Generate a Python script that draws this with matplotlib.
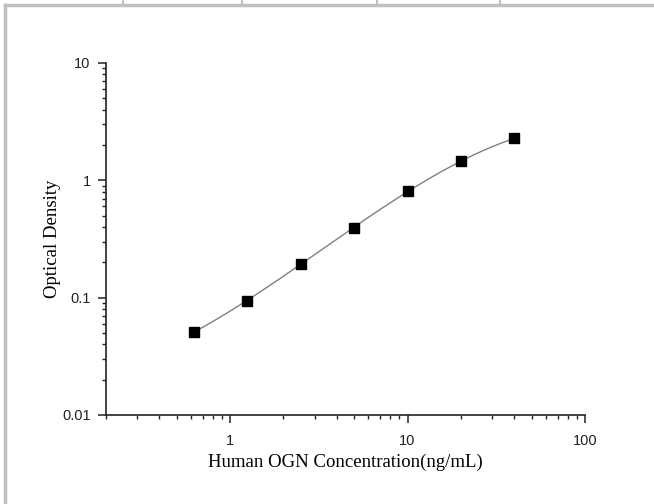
import numpy as np
import matplotlib
matplotlib.use('Agg')
import matplotlib.pyplot as plt
from matplotlib.lines import Line2D
from matplotlib.ticker import LogLocator, FixedLocator, NullFormatter

# dados da curva padrão
concentracao = [0.625, 1.25, 2.5, 5, 10, 20, 40]
densidade = [0.051, 0.094, 0.195, 0.396, 0.805, 1.45, 2.28]

x_ticks = [1, 10, 100]
x_tick_labels = ['1', '10', '100']
y_ticks = [0.01, 0.1, 1, 10]
y_tick_labels = ['0.01', '0.1', '1', '10']

fig = plt.figure(figsize=(6.54, 5.04), dpi=100)
ax = fig.add_axes([106 / 654, 1 - 415 / 504, 479 / 654, 352 / 504])

# curva ajustada (polinômio cúbico no espaço log-log)
lx = np.log10(concentracao)
ly = np.log10(densidade)
coef = np.polyfit(lx, ly, 3)
xs = np.linspace(lx[0], lx[-1], 200)
ax.plot(10 ** xs, 10 ** np.polyval(coef, xs), color='#808080', linewidth=1.0, zorder=2)
ax.plot(concentracao, densidade, 's', color='black', markersize=6.5, zorder=3)

ax.set_xscale('log')
ax.set_yscale('log')
ax.set_xlim(0.2, 100)
ax.set_ylim(0.01, 10)

ax.xaxis.set_major_locator(FixedLocator(x_ticks))
ax.set_xticklabels(x_tick_labels)
ax.yaxis.set_major_locator(FixedLocator(y_ticks))
ax.set_yticklabels(y_tick_labels)
ax.xaxis.set_minor_locator(LogLocator(base=10, subs=np.arange(2, 10)))
ax.yaxis.set_minor_locator(LogLocator(base=10, subs=np.arange(2, 10)))
ax.xaxis.set_minor_formatter(NullFormatter())
ax.yaxis.set_minor_formatter(NullFormatter())

for lado in ['top', 'right']:
    ax.spines[lado].set_visible(False)
for lado in ['left', 'bottom']:
    ax.spines[lado].set_linewidth(1.2)
    ax.spines[lado].set_color('#222222')

ax.tick_params(which='major', direction='out', length=6, width=1.1, color='#222222',
               labelsize=10.5, labelcolor='#222222', pad=5)
ax.tick_params(which='minor', direction='out', length=3, width=1.0, color='#222222')
for lbl in ax.get_xticklabels() + ax.get_yticklabels():
    lbl.set_family('Liberation Sans')
ax.tick_params(axis='x', which='major', pad=8)

ax.set_xlabel('Human OGN Concentration(ng/mL)', family='Liberation Serif', fontsize=13.5)
ax.set_ylabel('Optical Density', family='Liberation Serif', fontsize=13.5)
ax.xaxis.label.set_va('center')
ax.yaxis.label.set_va('center')
ax.xaxis.set_label_coords(0.5, -0.134)
ax.yaxis.set_label_coords(-0.111, 0.5)

# moldura da tabela (fragmento no topo)
cinza = '#c0c0c0'
W, H = 654, 504
fig.add_artist(Line2D([5 / W, 1], [1 - 4.5 / H, 1 - 4.5 / H], color=cinza, linewidth=2.5))
fig.add_artist(Line2D([5 / W, 5 / W], [0, 1 - 4.5 / H], color=cinza, linewidth=2.5))
for xp in [123, 242, 377, 500]:
    fig.add_artist(Line2D([xp / W, xp / W], [1 - 4.5 / H, 1], color=cinza, linewidth=1.5))

fig.savefig('out.png', dpi=100)
